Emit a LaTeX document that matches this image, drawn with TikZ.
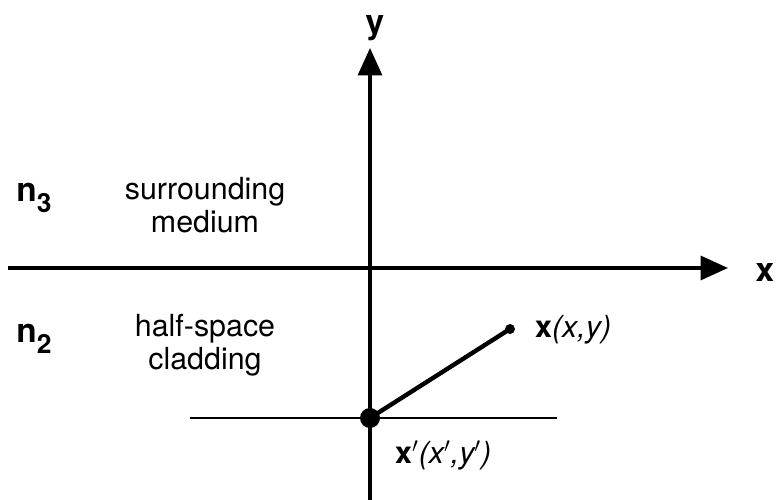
\documentclass[tikz,border=0pt]{standalone}
\usepackage{fontspec}
\setmainfont{TeX Gyre Heros}
\usetikzlibrary{arrows.meta}
\begin{document}
\begin{tikzpicture}[
		axis/.style = {line width = 2pt, -{Triangle[length = 0.55cm, width = 0.48cm]}},
		lbl/.style = {font = \fontsize{17.3}{18.5}\selectfont, align = center},
		idx/.style = {font = \fontsize{19}{20}\selectfont\bfseries}
	]
		\useasboundingbox (0,0) rectangle (15.54,10);
		% axes
		\coordinate (xstart) at (0.16,4.64);
		\coordinate (xend) at (14.56,4.64);
		\coordinate (ystart) at (7.4,0);
		\coordinate (yend) at (7.4,9.04);
		\draw [axis] (xstart) -- (xend);
		\draw [axis] (ystart) -- (yend);
		\node [idx] (xlab) at (15.3,4.56) {x};
		\node [idx] (ylab) at (7.5,9.44) {y};
		% interface line and points
		\coordinate (lstart) at (3.8,1.64);
		\coordinate (lend) at (11.14,1.64);
		\draw [line width = 1.5pt] (lstart) -- (lend);
		\node [circle, fill = black, inner sep = 0pt, minimum size = 0.4cm] (src) at (7.4,1.64) {};
		\node [circle, fill = black, inner sep = 0pt, minimum size = 0.2cm] (obs) at (10.2,3.42) {};
		\draw [line width = 2.5pt] (src.center) -- (obs.center);
		\node [lbl, anchor = west] (obslab) at (10.58,3.4) {\textbf{x}\textit{(x,y)}};
		\node [lbl, anchor = west] (srclab) at (7.78,0.9) {\textbf{x}\textit{$'$(x$'$,y$'$)}};
		% media
		\node [idx] (n3) at (0.68,6.04) {n\raisebox{-0.6ex}{\fontsize{15}{16}\selectfont 3}};
		\node [idx] (n2) at (0.68,3.22) {n\raisebox{-0.6ex}{\fontsize{15}{16}\selectfont 2}};
		\node [lbl] (upper) at (4.1,5.9) {surrounding\\medium};
		\node [lbl] (lower) at (4.1,3.1) {half-space\\cladding};
	\end{tikzpicture}
\end{document}
